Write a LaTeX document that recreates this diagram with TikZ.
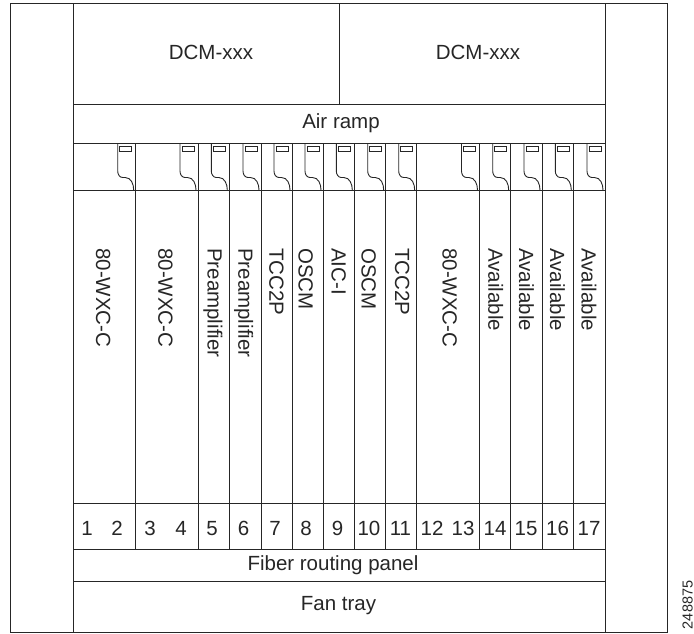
\documentclass[tikz,border=0pt]{standalone}
\usepackage{fontspec}
\setmainfont{Liberation Sans}

\begin{document}
\begin{tikzpicture}[
  x=1pt,y=-1pt,
  every node/.style={font=\fontsize{20.5}{23}\selectfont,text=black!85},
  panel/.style={draw=black!85,line width=1pt,inner sep=0pt,outer sep=0pt,anchor=north west},
  cell/.style={panel,line width=.9pt},
  tab/.style={draw=black!85,line width=.9pt,inner sep=0pt,minimum width=12pt,minimum height=5pt},
  handle/.style={draw=black!85,line width=.9pt},
  cardlbl/.style={rotate=-90,anchor=base west,inner sep=0pt},
  paneltxt/.style={inner sep=0pt},
  slotnum/.style={inner sep=0pt,anchor=base},
]
\useasboundingbox (0,0) rectangle (694,633);

% ---- side rails ----
\node[panel,minimum width=63pt,minimum height=628.5pt] (railL) at (10,3.5) {};
\node[panel,minimum width=62pt,minimum height=628.5pt] (railR) at (605,3.5) {};

% ---- top: compensation modules and air ramp ----
\node[panel,minimum width=266pt,minimum height=100.5pt] (dcmL) at (73,3.5) {};
\node[panel,minimum width=266pt,minimum height=100.5pt] (dcmR) at (339,3.5) {};
\node[paneltxt] (dcmLtxt) at (211,52) {DCM-xxx};
\node[paneltxt] (dcmRtxt) at (478,52) {DCM-xxx};
\node[panel,minimum width=532pt,minimum height=39pt] (ramp) at (73,104) {};
\node[paneltxt] (ramptxt) at (341,123.5) {Air ramp};

% ---- slots: id/left/right/baseline of label/label ----
\foreach \id/\xa/\xb/\bx/\lbl in {
  a/73/135.7/96/80-WXC-C,        b/135.7/198/158.3/80-WXC-C,
  c/198/229.3/207.7/Preamplifier, d/229.3/261/238.3/Preamplifier,
  e/261/292/269.3/TCC2P,         f/292/323/298.5/OSCM,
  g/323/354.3/331.7/AIC-I,       h/354.3/385.7/361.5/OSCM,
  i/385.7/416.7/395/TCC2P,       j/416.7/479.5/442.7/80-WXC-C,
  k/479.5/510.7/488.3/Available, l/510.7/542/519/Available,
  m/542/573.3/550/Available,     n/573.3/605/581.7/Available} {
  \node[cell,minimum width={(\xb-\xa)*1pt},minimum height=47pt] (head\id) at (\xa,143) {};
  \node[cell,minimum width={(\xb-\xa)*1pt},minimum height=313pt] (card\id) at (\xa,190) {};
  \node[cell,minimum width={(\xb-\xa)*1pt},minimum height=46pt] (num\id) at (\xa,503) {};
  \node[tab] (tab\id) at (\xb-10,149.2) {};
  \draw[handle] (\xb-18,143) -- ++(0,28) to[out=-90,in=180] ++(5,6.5)
     -- ++(2.5,0) to[out=0,in=90] (\xb-2,190);
  \node[cardlbl] (lbl\id) at (\bx,248) {\lbl};
}

% ---- slot numbers ----
\foreach \n/\x in {1/87,2/117,3/150,4/181,5/212,6/243.5,7/275,8/306,9/337.5,
                   10/369,11/400.5,12/432,13/463,14/495,15/526,16/557.5,17/589}
  \node[slotnum] (slot\n) at (\x,535) {\n};

% ---- bottom ----
\node[panel,minimum width=532pt,minimum height=32pt] (fiber) at (73,549) {};
\node[paneltxt] (fibertxt) at (333,565) {Fiber routing panel};
\node[panel,minimum width=532pt,minimum height=51pt] (fan) at (73,581) {};
\node[paneltxt] (fantxt) at (338.5,606) {Fan tray};

\node[rotate=90,anchor=base east,inner sep=0pt,font=\fontsize{14.5}{17}\selectfont] (figid) at (692.5,580.5) {248875};

\end{tikzpicture}
\end{document}
